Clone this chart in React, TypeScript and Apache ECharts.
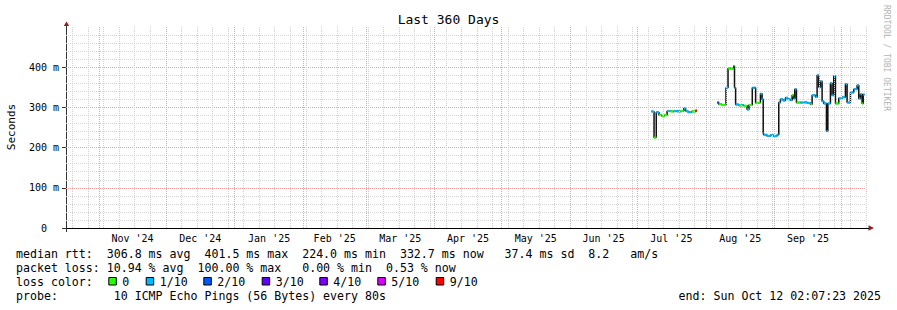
import React, { useEffect, useRef } from "react";
import * as echarts from "echarts";

// ---------- texts ----------
const chartTitle = "Last 360 Days";
const yAxisName = "Seconds";
const watermark = "RRDTOOL / TOBI OETIKER";
const endText = "end: Sun Oct 12 02:07:23 2025";
const statsMedian =
  "median rtt:  306.8 ms avg  401.5 ms max  224.0 ms min  332.7 ms now   37.4 ms sd  8.2   am/s";
const statsLoss = "packet loss: 10.94 % avg  100.00 % max   0.00 % min  0.53 % now";
const lossColorTitle = "loss color:";
const probeText = "probe:        10 ICMP Echo Pings (56 Bytes) every 80s";

// ---------- time range ----------
const rangeEnd = "2025-10-12T02:07:23";
const rangeDays = 360;

// ---------- x axis (months) ----------
const monthStarts = [
  "2024-11-01", "2024-12-01", "2025-01-01", "2025-02-01", "2025-03-01", "2025-04-01",
  "2025-05-01", "2025-06-01", "2025-07-01", "2025-08-01", "2025-09-01", "2025-10-01",
];
const monthLabels = [
  "Nov '24", "Dec '24", "Jan '25", "Feb '25", "Mar '25", "Apr '25",
  "May '25", "Jun '25", "Jul '25", "Aug '25", "Sep '25",
];
const firstWeekLine = "2024-10-20";

// ---------- y axis ----------
const yMin = 0;
const yMax = 500;
const yStep = 100;

// ---------- loss colours ----------
const lossLevels = [0, 1, 2, 3, 4, 5, 9];
const lossNames = ["0", "1/10", "2/10", "3/10", "4/10", "5/10", "9/10"];
const lossColors = ["#26ff00", "#00b8ff", "#0059ff", "#5e00ff", "#7e00ff", "#dd00ff", "#ff0000"];

// ---------- measurements (null = no data) ----------
const sampleTimes = [
  "2025-07-07T12:00", "2025-07-08T05:00", "2025-07-08T17:00", "2025-07-09T07:00",
  "2025-07-09T17:00", "2025-07-10T22:00", "2025-07-12T00:00", "2025-07-13T12:00",
  "2025-07-14T14:00", "2025-07-16T00:00", "2025-07-17T12:00", "2025-07-19T00:00",
  "2025-07-20T12:00", "2025-07-22T02:00", "2025-07-22T22:00", "2025-07-24T00:00",
  "2025-07-25T12:00", "2025-07-27T10:00",
  "2025-07-28T00:00",
  "2025-08-06T02:00", "2025-08-06T20:00", "2025-08-08T06:00", "2025-08-09T14:00",
  "2025-08-10T02:00", "2025-08-11T00:00", "2025-08-12T02:00", "2025-08-13T14:00",
  "2025-08-13T22:00", "2025-08-14T10:00", "2025-08-15T22:00", "2025-08-17T00:00",
  "2025-08-18T02:00", "2025-08-19T14:00", "2025-08-20T10:00", "2025-08-21T22:00",
  "2025-08-22T22:00", "2025-08-23T10:00", "2025-08-24T20:00", "2025-08-25T14:00",
  "2025-08-26T08:00", "2025-08-26T20:00", "2025-08-27T02:00", "2025-08-28T12:00",
  "2025-08-30T02:00", "2025-08-31T12:00", "2025-09-02T02:00", "2025-09-02T20:00",
  "2025-09-03T14:00", "2025-09-04T18:00", "2025-09-05T20:00", "2025-09-07T00:00",
  "2025-09-08T02:00", "2025-09-08T20:00", "2025-09-09T12:00", "2025-09-10T01:00",
  "2025-09-10T19:00", "2025-09-12T14:00", "2025-09-14T00:00", "2025-09-15T14:00",
  "2025-09-17T02:00", "2025-09-17T20:00", "2025-09-19T08:00", "2025-09-20T02:00",
  "2025-09-20T20:00", "2025-09-21T14:00", "2025-09-22T08:00", "2025-09-23T02:00",
  "2025-09-24T07:00", "2025-09-24T22:00", "2025-09-26T02:00", "2025-09-26T20:00",
  "2025-09-27T14:00", "2025-09-28T08:00", "2025-09-29T20:00", "2025-10-01T08:00",
  "2025-10-02T20:00", "2025-10-03T14:00", "2025-10-05T02:00", "2025-10-06T14:00",
  "2025-10-08T02:00", "2025-10-08T20:00", "2025-10-09T14:00", "2025-10-10T08:00",
  "2025-10-10T20:00",
];
const medianMs: (number | null)[] = [
  290, 289, 225, 226,
  288, 281, 279, 281,
  291, 290, 291, 290,
  291, 297, 291, 288,
  290, 292,
  null,
  312, 308, 306, 306,
  349, 397, 396, 403,
  349, 307, 305, 306,
  304, 295, 306, 349,
  349, 311, 312, 334,
  320, 237, 232, 229,
  231, 229, 232, 312,
  320, 317, 324, 320,
  318, 330, 322, 345,
  312, 312, 313, 311,
  308, 330, 326, 380,
  350, 365, 315, 310,
  241, 310, 360, 330,
  378, 310, 323, 325,
  358, 312, 337, 345,
  355, 322, 333, 310,
  332,
];
const lossTenths = [
  1, 1, 0, 0,
  1, 0, 0, 0,
  1, 0, 1, 1,
  0, 1, 1, 1,
  0, 9,
  0,
  2, 0, 0, 0,
  1, 0, 0, 0,
  1, 1, 0, 1,
  0, 1, 0, 1,
  1, 0, 0, 1,
  1, 1, 1, 1,
  1, 1, 1, 1,
  1, 1, 1, 1,
  1, 0, 1, 1,
  0, 1, 1, 1,
  0, 1, 1, 1,
  1, 1, 1, 1,
  1, 1, 1, 1,
  1, 0, 1, 1,
  1, 1, 1, 1,
  1, 1, 1, 0,
  1,
];

// ---------- layout ----------
const W = 897;
const H = 310;
const FONT = "DejaVu Sans Mono";
const gridLeft = 66;
const gridTop = 27;
const gridWidth = 800;
const gridHeight = 201;
const legendX = 16;
const legendRowsY = [254, 268, 282, 296];
const lossBoxX = [108.3, 145.7, 203.3, 261.7, 319.3, 377.3, 435.7];

const parseT = (s: string) => Date.parse(s.length <= 10 ? s + "T00:00:00Z" : s + (s.length === 16 ? ":00Z" : "Z"));
const DAY = 86400000;

const lossColor = (l: number) => {
  const idx = lossLevels.indexOf(l);
  return idx >= 0 ? lossColors[idx] : lossColors[lossColors.length - 1];
};

const nb = (s: string) => s.replace(/ /g, "\u00a0");

export default function App() {
  const ref = useRef<HTMLDivElement>(null);

  useEffect(() => {
    if (!ref.current) return;
    const chart = echarts.init(ref.current, undefined, { renderer: "svg" });

    const endMs = parseT(rangeEnd);
    const startMs = endMs - rangeDays * DAY;
    const monthMs = monthStarts.map(parseT);
    const monthMid = monthLabels.map((_, i) => (monthMs[i] + monthMs[i + 1]) / 2);

    const weekLines: number[] = [];
    for (let t = parseT(firstWeekLine); t < endMs; t += 7 * DAY) {
      if (!monthMs.includes(t)) weekLines.push(t);
    }

    // segments
    const times = sampleTimes.map(parseT);
    const segments: number[][][] = [];
    let cur: number[][] = [];
    const colorItems: number[][] = [];
    for (let i = 0; i < times.length; i++) {
      const v = medianMs[i];
      if (v == null) {
        if (cur.length) segments.push(cur);
        cur = [];
        continue;
      }
      const nextOk = i + 1 < times.length && medianMs[i + 1] != null;
      const tEnd = nextOk ? times[i + 1] : times[i] + 0.6 * DAY;
      cur.push([times[i], v]);
      if (!nextOk) cur.push([tEnd, v]);
      colorItems.push([times[i], v, tEnd, lossTenths[i]]);
    }
    if (cur.length) segments.push(cur);

    const gridLine = (color: string) => ({ color, width: 1, type: [1, 1] as any });

    const series: any[] = [
      {
        type: "line",
        name: "grid",
        data: [segments[0][0]],
        showSymbol: false,
        symbol: "none",
        lineStyle: { opacity: 0 },
        silent: true,
        z: 1,
        markLine: {
          silent: true,
          symbol: "none",
          label: { show: false },
          animation: false,
          data: [
            ...weekLines.map((t) => ({ xAxis: t, lineStyle: gridLine("#cfcfcf") })),
            ...monthMs.map((t) => ({ xAxis: t, lineStyle: gridLine("#f0a0a0") })),
          ],
        },
      },
      ...segments.map((seg) => ({
        type: "line",
        data: seg,
        step: "end",
        showSymbol: false,
        symbol: "none",
        lineStyle: { color: "#111", width: 1.5 },
        z: 3,
        silent: true,
      })),
      {
        type: "custom",
        data: colorItems,
        encode: { x: [0, 2], y: 1 },
        z: 4,
        silent: true,
        renderItem: (_p: any, api: any) => {
          const a = api.coord([api.value(0), api.value(1)]);
          const b = api.coord([api.value(2), api.value(1)]);
          return {
            type: "line",
            shape: { x1: a[0], y1: a[1], x2: b[0], y2: b[1] },
            style: { stroke: lossColor(api.value(3)), lineWidth: 2.2 },
          };
        },
      },
    ];

    const graphics: any[] = [
      {
        type: "text",
        x: W / 2,
        y: 19,
        style: { text: chartTitle, font: `13px '${FONT}'`, fill: "#000", align: "center", verticalAlign: "middle" },
      },
      {
        type: "text",
        x: 11,
        y: 127,
        rotation: Math.PI / 2,
        style: { text: yAxisName, font: `11px '${FONT}'`, fill: "#000", align: "center", verticalAlign: "middle" },
      },
      {
        type: "text",
        x: 886,
        y: 5,
        rotation: -Math.PI / 2,
        style: { text: nb(watermark), font: `8px '${FONT}'`, fill: "#b4b4b4", align: "left", verticalAlign: "middle" },
      },
      // axis arrows and overhangs
      {
        type: "polygon",
        shape: { points: [[63.8, 26], [69.2, 26], [66.5, 21.5]] },
        style: { fill: "#9e1a1a" },
      },
      {
        type: "polygon",
        shape: { points: [[868.5, 225.3], [868.5, 230.7], [874, 228]] },
        style: { fill: "#9e1a1a" },
      },
      {
        type: "line",
        shape: { x1: 62, y1: 228.5, x2: 869, y2: 228.5 },
        style: { stroke: "#000", lineWidth: 1 },
      },
      {
        type: "line",
        shape: { x1: 66.5, y1: 26, x2: 66.5, y2: 232 },
        style: { stroke: "#333", lineWidth: 1 },
      },
      // legend rows
      {
        type: "text",
        x: legendX,
        y: legendRowsY[0],
        style: { text: nb(statsMedian), font: `11.6px '${FONT}'`, fill: "#000", verticalAlign: "middle" },
      },
      {
        type: "text",
        x: legendX,
        y: legendRowsY[1],
        style: { text: nb(statsLoss), font: `11.6px '${FONT}'`, fill: "#000", verticalAlign: "middle" },
      },
      {
        type: "text",
        x: legendX,
        y: legendRowsY[2],
        style: { text: nb(lossColorTitle), font: `11.6px '${FONT}'`, fill: "#000", verticalAlign: "middle" },
      },
      ...lossNames.flatMap((name, i) => [
        {
          type: "rect",
          shape: { x: lossBoxX[i] + 0.5, y: legendRowsY[2] - 4.5, width: 7.5, height: 7.5 },
          style: { fill: lossColors[i], stroke: "#000", lineWidth: 1 },
        },
        {
          type: "text",
          x: lossBoxX[i] + 14,
          y: legendRowsY[2],
          style: { text: name, font: `11.6px '${FONT}'`, fill: "#000", verticalAlign: "middle" },
        },
      ]),
      {
        type: "text",
        x: legendX,
        y: legendRowsY[3],
        style: { text: nb(probeText), font: `11.6px '${FONT}'`, fill: "#000", verticalAlign: "middle" },
      },
      {
        type: "text",
        x: 881,
        y: legendRowsY[3],
        style: { text: nb(endText), font: `11.6px '${FONT}'`, fill: "#000", align: "right", verticalAlign: "middle" },
      },
    ];

    chart.setOption({
      animation: false,
      backgroundColor: "#fff",
      grid: { left: gridLeft, top: gridTop, width: gridWidth, height: gridHeight, containLabel: false },
      xAxis: {
        type: "value",
        min: startMs,
        max: endMs,
        axisLine: { show: false },
        axisTick: { show: false },
        splitLine: { show: false },
        axisLabel: {
          customValues: monthMid,
          formatter: (v: number) => {
            const i = monthMid.findIndex((m) => Math.abs(m - v) < 1000);
            return i >= 0 ? monthLabels[i] : "";
          },
          fontFamily: FONT,
          fontSize: 10,
          color: "#000",
          margin: 5,
        },
      },
      yAxis: {
        type: "value",
        min: yMin,
        max: yMax,
        interval: yStep,
        axisLine: { show: false },
        axisTick: { show: true, length: 4, lineStyle: { color: "#333" } },
        axisLabel: {
          formatter: (v: number) => (v === 0 ? "0\u00a0\u00a0" : `${v}\u00a0m`),
          fontFamily: FONT,
          fontSize: 10,
          color: "#000",
          margin: 7,
          showMaxLabel: false,
        },
        splitLine: { show: true, showMinLine: false, showMaxLine: false, lineStyle: gridLine("#f0a0a0") },
        minorTick: { show: false, splitNumber: 5 },
        minorSplitLine: { show: true, lineStyle: gridLine("#d4d4d4") },
      },
      series,
      graphic: { elements: graphics },
    });

    return () => chart.dispose();
  }, []);

  return (
    <div
      ref={ref}
      style={{ position: "fixed", left: 0, top: 0, width: W, height: H, background: "#fff" }}
    />
  );
}
